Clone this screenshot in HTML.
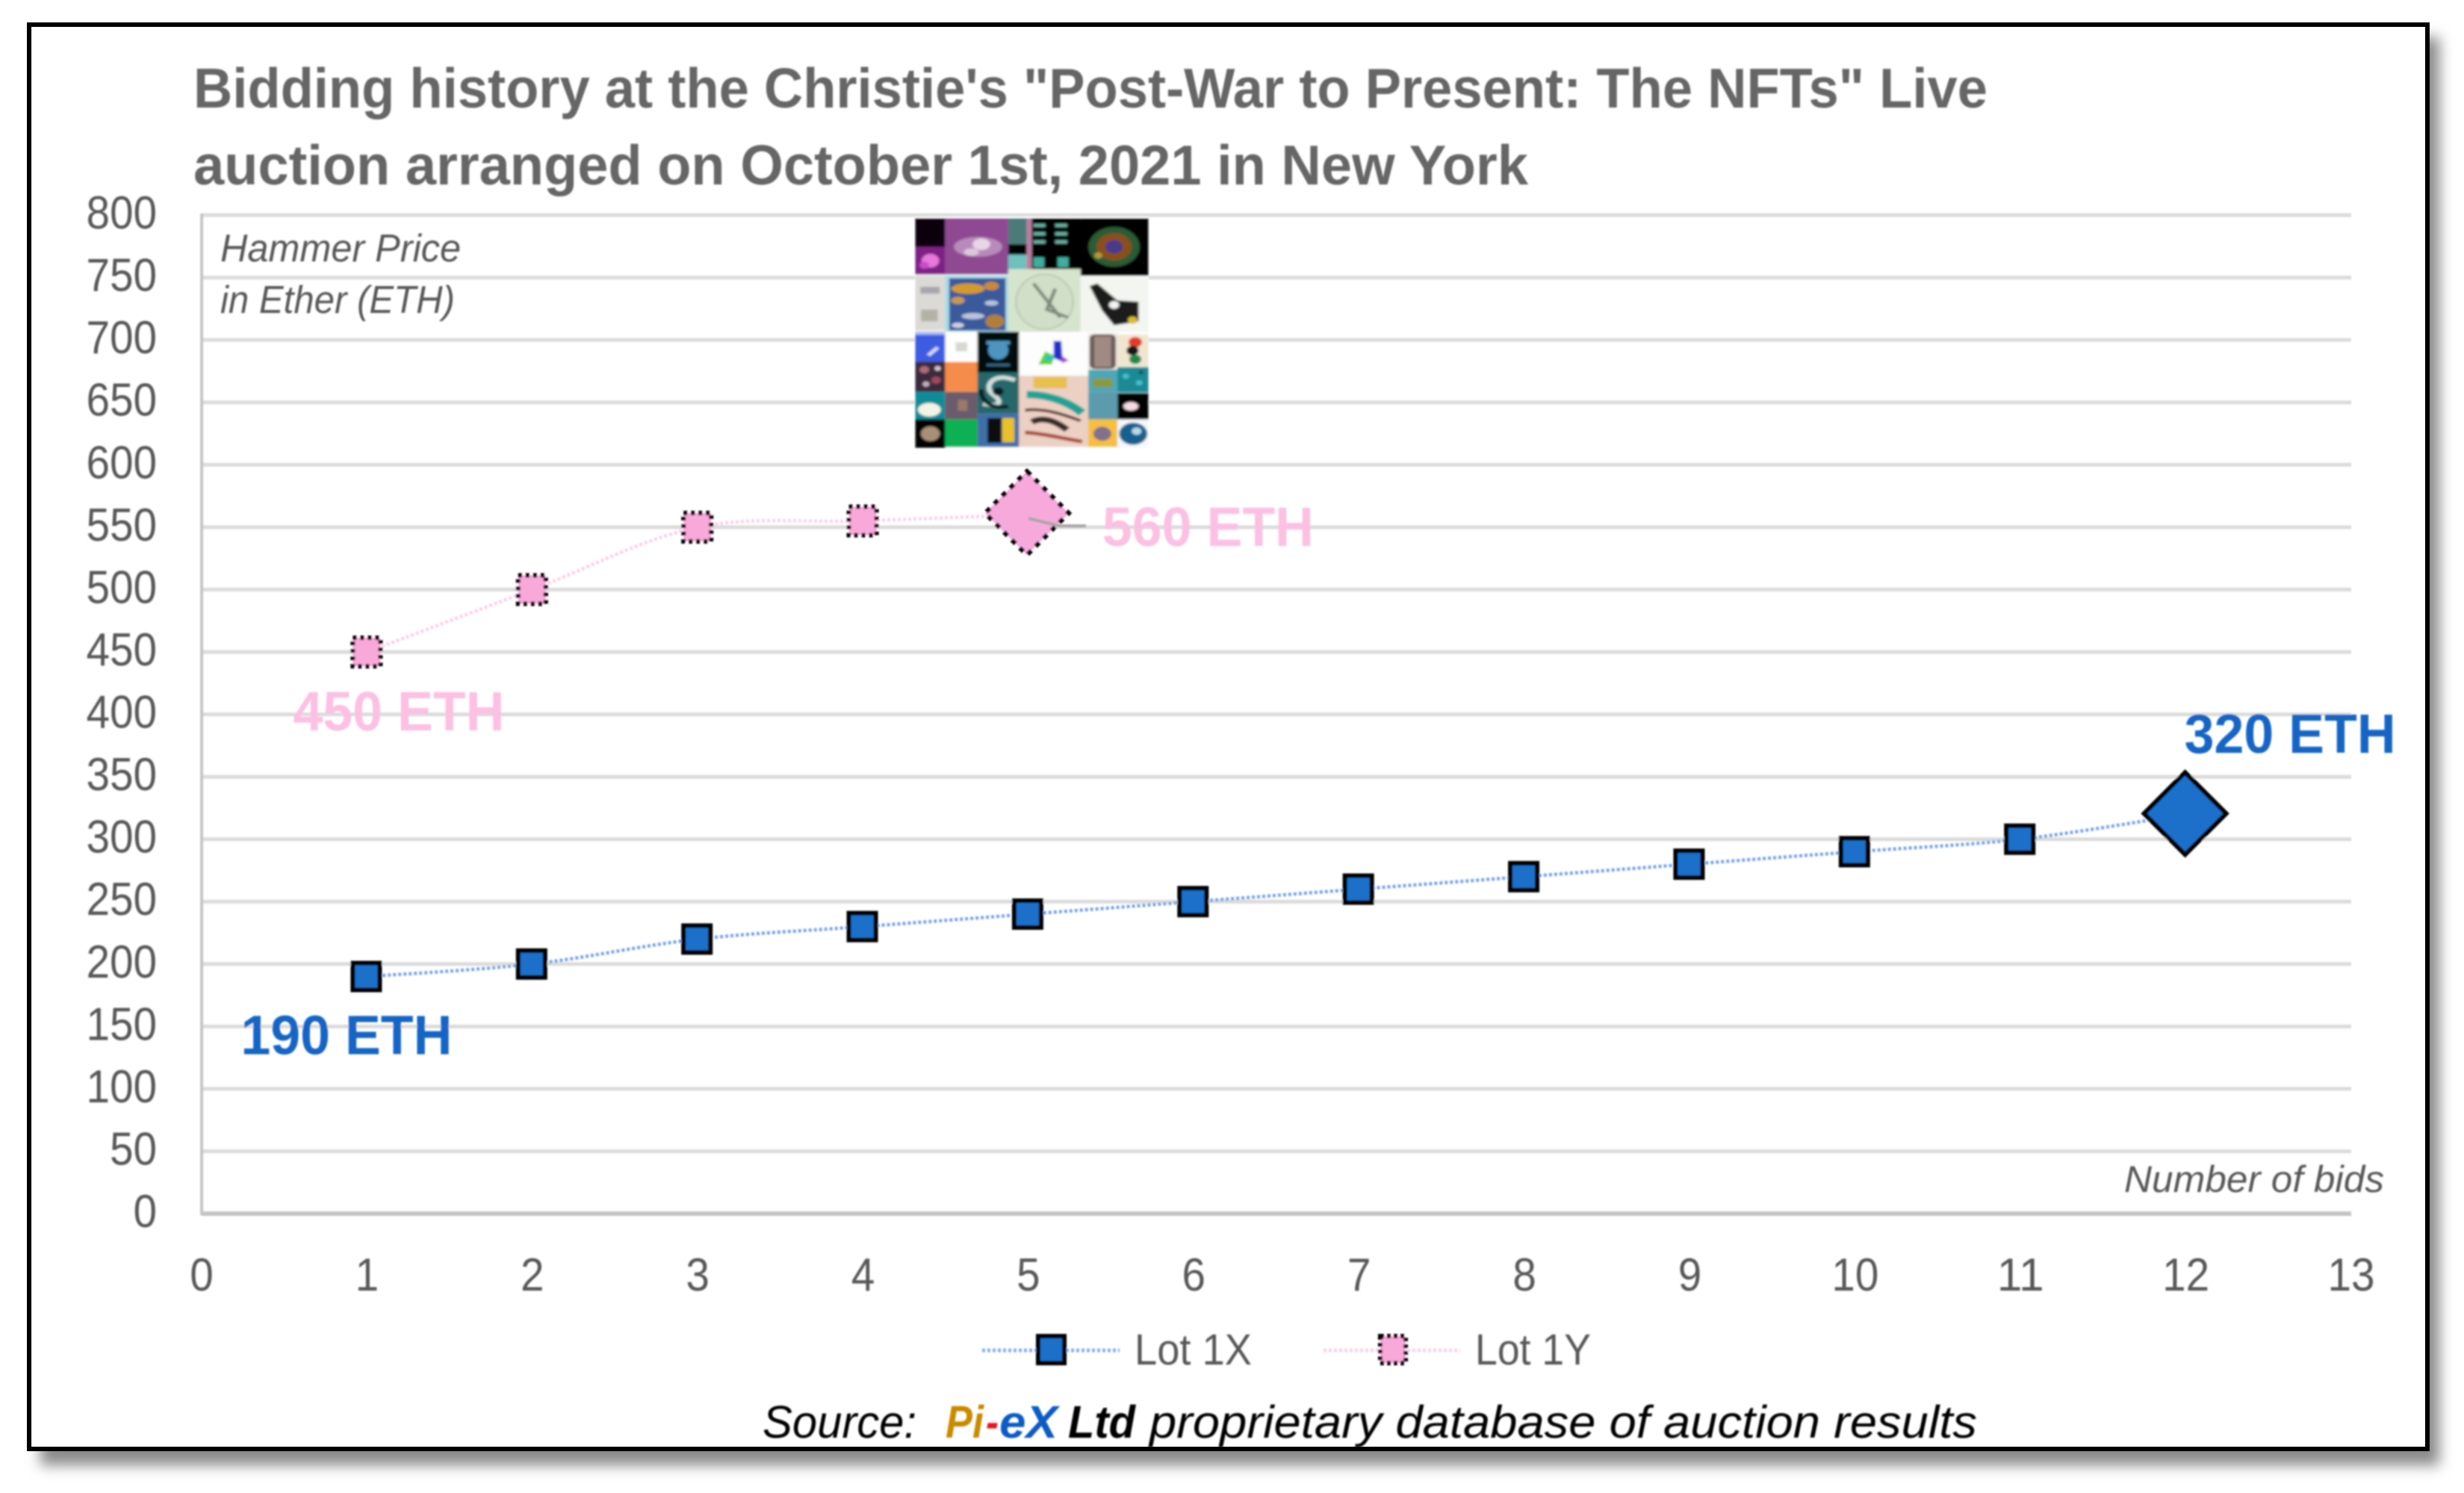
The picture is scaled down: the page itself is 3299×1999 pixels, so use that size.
<!DOCTYPE html>
<html lang="en">
<head>
<meta charset="utf-8">
<title>Bidding history at the Christie's "Post-War to Present: The NFTs" Live auction</title>
<style>
html,body{margin:0;padding:0;background:#fff;}
svg{display:block;font-family:"Liberation Sans",sans-serif;}
</style>
</head>
<body>
<svg id="chart" xmlns="http://www.w3.org/2000/svg" width="3299" height="1999" viewBox="0 0 3299 1999">
  <defs>
    <filter id="shadowBlur" x="-5%" y="-5%" width="110%" height="110%"><feGaussianBlur stdDeviation="9"/></filter>
    <filter id="soft" x="-2%" y="-2%" width="104%" height="104%"><feGaussianBlur stdDeviation="1.1"/></filter>
    <filter id="mosaicBlur" x="-5%" y="-5%" width="110%" height="110%"><feGaussianBlur stdDeviation="3"/></filter>
    <clipPath id="mosaicClip"><rect x="172" y="115" width="696" height="880"/></clipPath>
  </defs>
  <rect x="0" y="0" width="3299" height="1999" fill="#fff"/>
  <rect x="54" y="50" width="3212" height="1912" fill="#8a8a8a" filter="url(#shadowBlur)"/>
  <rect x="39" y="33" width="3211" height="1907" fill="#fff" stroke="#000" stroke-width="6"/>
  <g filter="url(#soft)">
    <g id="grid"></g>
    <g id="axes"></g>

    <text x="259" y="144" font-size="75" font-weight="700" fill="#666" textLength="2402" lengthAdjust="spacingAndGlyphs">Bidding history at the Christie's "Post-War to Present: The NFTs" Live</text>
    <text x="259" y="247" font-size="75" font-weight="700" fill="#666" textLength="1787" lengthAdjust="spacingAndGlyphs">auction arranged on October 1st, 2021 in New York</text>

    <text x="295" y="350" font-size="52" font-style="italic" fill="#595959" textLength="322" lengthAdjust="spacingAndGlyphs">Hammer Price</text>
    <text x="295" y="419" font-size="52" font-style="italic" fill="#595959" textLength="314" lengthAdjust="spacingAndGlyphs">in Ether (ETH)</text>
    <text x="2844" y="1596" font-size="50" font-style="italic" fill="#595959" textLength="348" lengthAdjust="spacingAndGlyphs">Number of bids</text>

    <g>
      <rect x="1225" y="290" width="313" height="310" fill="#fff"/>
      <g transform="translate(1147.6 251.75) scale(0.4497 0.35)" clip-path="url(#mosaicClip)" filter="url(#mosaicBlur)">
        <rect x="172" y="115" width="90" height="110" fill="#0d040c"/>
        <rect x="172" y="225" width="90" height="105" fill="#7d2284"/>
        <circle cx="218" cy="278" r="26" fill="#e878dc"/>
        <circle cx="200" cy="295" r="14" fill="#c84ec8"/>
        <rect x="262" y="115" width="188" height="215" fill="#8e4a92"/>
        <ellipse cx="360" cy="225" rx="72" ry="38" fill="#b78bb9"/>
        <ellipse cx="370" cy="215" rx="26" ry="22" fill="#e8d6e8"/>
        <ellipse cx="340" cy="245" rx="22" ry="14" fill="#dcc8de"/>
        <rect x="450" y="115" width="55" height="100" fill="#4c7a78"/>
        <rect x="450" y="215" width="55" height="40" fill="#050505"/>
        <rect x="450" y="255" width="55" height="75" fill="#6fc0bd"/>
        <rect x="505" y="115" width="15" height="215" fill="#b87ea0"/>
        <rect x="520" y="115" width="145" height="195" fill="#060606"/>
        <rect x="525" y="137" width="35" height="12" fill="#6db5a5"/>
        <rect x="590" y="137" width="35" height="12" fill="#6db5a5"/>
        <rect x="525" y="169" width="35" height="12" fill="#6db5a5"/>
        <rect x="590" y="169" width="35" height="12" fill="#6db5a5"/>
        <rect x="525" y="200" width="35" height="12" fill="#6db5a5"/>
        <rect x="590" y="200" width="35" height="12" fill="#6db5a5"/>
        <rect x="525" y="265" width="32" height="38" fill="#3fae9f"/>
        <rect x="597" y="265" width="32" height="38" fill="#3fae9f"/>
        <rect x="665" y="115" width="203" height="220" fill="#030303"/>
        <circle cx="765" cy="225" r="76" fill="#2c5c34"/>
        <circle cx="765" cy="225" r="52" fill="#8a4f1c"/>
        <circle cx="765" cy="225" r="26" fill="#4a3a8a"/>
        <circle cx="718" cy="258" r="12" fill="#b09a3a"/>

        <rect x="172" y="335" width="90" height="210" fill="#dcdad6"/>
        <rect x="188" y="378" width="58" height="26" fill="#a8a6ae"/>
        <rect x="190" y="465" width="50" height="45" fill="#b4b2a6"/>
        <rect x="262" y="335" width="188" height="215" fill="#a9dbe6"/>
        <rect x="274" y="345" width="168" height="200" fill="#3b5a9c"/>
        <ellipse cx="330" cy="385" rx="50" ry="20" fill="#d59a2a"/>
        <ellipse cx="400" cy="375" rx="22" ry="16" fill="#c98a30"/>
        <ellipse cx="300" cy="430" rx="20" ry="14" fill="#c89a50"/>
        <ellipse cx="410" cy="510" rx="28" ry="26" fill="#b0803a"/>
        <ellipse cx="345" cy="490" rx="34" ry="12" fill="#b9c2d8"/>
        <ellipse cx="400" cy="440" rx="20" ry="10" fill="#b9c2d8"/>
        <ellipse cx="300" cy="525" rx="18" ry="10" fill="#c9d2e4"/>
        <rect x="450" y="310" width="215" height="240" fill="#d5e4cd"/>
        <ellipse cx="558" cy="435" rx="85" ry="105" fill="#d2dfc8" stroke="#b8c5af" stroke-width="5"/>
        <path d="M525 365 L605 495 M590 385 L565 465 L628 495" stroke="#7d8a7a" stroke-width="11" fill="none"/>
        <rect x="665" y="340" width="203" height="210" fill="#f3f5f0"/>
        <path d="M692 375 L715 365 L775 430 L838 435 L838 510 L765 525 L730 470 Z" fill="#1b1b1b"/>
        <circle cx="765" cy="447" r="15" fill="#f3f3f3"/>
        <circle cx="820" cy="505" r="14" fill="#d9b92a"/>

        <rect x="172" y="560" width="90" height="105" fill="#3c5ce2"/>
        <rect x="172" y="550" width="90" height="12" fill="#a8b8f0"/>
        <path d="M212 640 L240 610" stroke="#d6ddf8" stroke-width="12" fill="none"/>
        <rect x="262" y="550" width="96" height="115" fill="#fff"/>
        <rect x="293" y="590" width="35" height="35" fill="#d8d8d2"/>
        <rect x="358" y="550" width="124" height="158" fill="#040810"/>
        <ellipse cx="420" cy="620" rx="30" ry="36" fill="#4d95c0"/>
        <rect x="385" y="585" width="70" height="14" fill="#4d95c0"/>
        <rect x="385" y="672" width="70" height="10" fill="#35657f"/>
        <rect x="482" y="560" width="206" height="158" fill="#fcfdfc"/>
        <path d="M540 675 L560 625 L585 640 L580 675 Z" fill="#5fd02a"/>
        <path d="M585 585 L608 585 L612 665 L585 650 Z" fill="#1a30c8"/>
        <path d="M608 640 L630 660 L610 670 Z" fill="#a845d8"/>
        <rect x="560" y="640" width="25" height="20" fill="#25c8b0"/>
        <rect x="688" y="555" width="87" height="140" fill="#efe9e2"/>
        <rect x="692" y="560" width="78" height="132" rx="16" fill="#6b5a56"/>
        <rect x="706" y="568" width="50" height="116" fill="#a08a82"/>
        <rect x="775" y="560" width="93" height="125" fill="#f0e6d0"/>
        <circle cx="828" cy="590" r="20" fill="#e23a2a"/>
        <circle cx="820" cy="622" r="18" fill="#151515"/>
        <circle cx="828" cy="655" r="18" fill="#1c8a4a"/>

        <rect x="172" y="665" width="90" height="115" fill="#3a2a3c"/>
        <circle cx="200" cy="695" r="14" fill="#b0697a"/>
        <circle cx="235" cy="735" r="14" fill="#a04a5a"/>
        <circle cx="205" cy="750" r="10" fill="#c8b0c0"/>
        <circle cx="240" cy="690" r="9" fill="#d8c8d0"/>
        <rect x="262" y="665" width="96" height="115" fill="#f68c4c"/>
        <rect x="358" y="705" width="124" height="158" fill="#27686a"/>
        <path d="M470 735 C400 700 375 765 405 790 C432 815 430 840 375 825" stroke="#cfe0dc" stroke-width="15" fill="none"/>
        <circle cx="420" cy="778" r="16" fill="#0f1f22"/>
        <path d="M370 770 C365 800 390 850 450 835" stroke="#0f1f22" stroke-width="14" fill="none"/>
        <rect x="482" y="718" width="206" height="272" fill="#ecd0c4"/>
        <rect x="525" y="722" width="100" height="44" fill="#e8c050"/>
        <path d="M505 790 C560 790 620 810 670 860" stroke="#1fa394" stroke-width="28" fill="none"/>
        <path d="M500 850 C560 840 620 870 665 890" stroke="#5a332c" stroke-width="11" fill="none"/>
        <path d="M520 895 C560 870 600 900 625 925" stroke="#3b2a25" stroke-width="22" fill="none"/>
        <path d="M500 935 C560 940 620 960 670 970" stroke="#a8483a" stroke-width="14" fill="none"/>
        <rect x="688" y="695" width="87" height="85" fill="#4fa6b6"/>
        <rect x="702" y="730" width="58" height="32" fill="#8a9a3a"/>
        <rect x="775" y="685" width="93" height="97" fill="#1c8a95"/>
        <circle cx="800" cy="720" r="10" fill="#46c0c8"/>
        <circle cx="840" cy="745" r="10" fill="#46c0c8"/>
        <circle cx="845" cy="705" r="8" fill="#0f5f68"/>

        <rect x="172" y="780" width="90" height="105" fill="#0f8b97"/>
        <ellipse cx="215" cy="848" rx="34" ry="26" fill="#f4f4e6"/>
        <rect x="262" y="780" width="96" height="105" fill="#6a5c6c"/>
        <rect x="300" y="810" width="28" height="42" fill="#9a7a6a"/>
        <rect x="688" y="780" width="87" height="105" fill="#5c9bac"/>
        <rect x="775" y="785" width="93" height="100" fill="#050505"/>
        <ellipse cx="815" cy="835" rx="22" ry="16" fill="#f4dce4"/>

        <rect x="172" y="885" width="90" height="110" fill="#040404"/>
        <circle cx="218" cy="940" r="28" fill="#a89078"/>
        <rect x="262" y="885" width="96" height="105" fill="#0cb052"/>
        <rect x="358" y="863" width="124" height="127" fill="#3f6ea8"/>
        <rect x="388" y="880" width="42" height="95" fill="#0a0a10"/>
        <rect x="432" y="880" width="36" height="92" fill="#e9c12a"/>
        <rect x="688" y="885" width="87" height="105" fill="#f5bf3f"/>
        <circle cx="730" cy="940" r="27" fill="#84708c"/>
        <rect x="775" y="885" width="93" height="110" fill="#f5f8fa"/>
        <circle cx="822" cy="940" r="42" fill="#15608f"/>
        <circle cx="832" cy="930" r="14" fill="#b7dbe8"/>
      </g>
    </g>

    <g id="seriesLayer"></g>
    <g id="labelLayer"></g>

    <g>
      <g>
        <line x1="1315" y1="1808" x2="1499" y2="1808" stroke="#8ab0e6" stroke-width="5" stroke-dasharray="4 3"/>
        <rect x="1390" y="1789" width="35" height="36" fill="#1a6fc9" stroke="#000" stroke-width="6"/>
        <text x="1519" y="1827" font-size="58" fill="#595959" textLength="157" lengthAdjust="spacingAndGlyphs">Lot 1X</text>
      </g>
      <g>
        <line x1="1772" y1="1808" x2="1955" y2="1808" stroke="#fbd0e8" stroke-width="5" stroke-dasharray="4 3"/>
        <rect x="1848" y="1789" width="34" height="36" fill="#f9a8da" stroke="#000" stroke-width="6" stroke-dasharray="5 4"/>
        <text x="1975" y="1827" font-size="58" fill="#595959" textLength="155" lengthAdjust="spacingAndGlyphs">Lot 1Y</text>
      </g>
    </g>

    <g font-size="61" font-style="italic">
      <text x="1021" y="1925" fill="#000" textLength="206" lengthAdjust="spacingAndGlyphs">Source:</text>
      <text x="1266" y="1925" fill="#c98a00" font-weight="700" textLength="51" lengthAdjust="spacingAndGlyphs">Pi</text>
      <text x="1320" y="1925" fill="#e8141c" font-weight="700" textLength="17" lengthAdjust="spacingAndGlyphs">-</text>
      <text x="1338" y="1925" fill="#0a5cc4" font-weight="700" textLength="78" lengthAdjust="spacingAndGlyphs">eX</text>
      <text x="1430" y="1925" fill="#000" font-weight="700" textLength="90" lengthAdjust="spacingAndGlyphs">Ltd</text>
      <text x="1539" y="1925" fill="#000" textLength="1108" lengthAdjust="spacingAndGlyphs">proprietary database of auction results</text>
    </g>
  </g>
</svg>
<script>
const xTickLabels = [0,1,2,3,4,5,6,7,8,9,10,11,12,13];
const yTickLabels = [0,50,100,150,200,250,300,350,400,450,500,550,600,650,700,750,800];
const bidNumbersX = [1,2,3,4,5,6,7,8,9,10,11,12];
const lot1xValues = [190,200,220,230,240,250,260,270,280,290,300,320];
const bidNumbersY = [1,2,3,4,5];
const lot1yValues = [450,500,550,555,560];

const NS = 'http://www.w3.org/2000/svg';
const plotLeft = 270, plotRight = 3148, plotBottom = 1625, plotTop = 288;
const xMax = xTickLabels[xTickLabels.length - 1];
const yMax = yTickLabels[yTickLabels.length - 1];
const sx = v => plotLeft + (v / xMax) * (plotRight - plotLeft);
const sy = v => plotBottom - (v / yMax) * (plotBottom - plotTop);

function make(tag, parent) {
  const el = document.createElementNS(NS, tag);
  parent.appendChild(el);
  return el;
}
function setAll(el, props) {
  Object.keys(props).forEach(k => el.setAttribute(k, props[k]));
}
function smoothPath(xs, ys) {
  const p = xs.map((x, i) => [sx(x), sy(ys[i])]);
  let d = 'M' + p[0][0] + ' ' + p[0][1];
  for (let i = 0; i < p.length - 1; i++) {
    const a = p[Math.max(i - 1, 0)], b = p[i], c = p[i + 1], e = p[Math.min(i + 2, p.length - 1)];
    const c1x = b[0] + (c[0] - a[0]) / 6, c1y = b[1] + (c[1] - a[1]) / 6;
    const c2x = c[0] - (e[0] - b[0]) / 6, c2y = c[1] - (e[1] - b[1]) / 6;
    d += ' C' + c1x + ' ' + c1y + ' ' + c2x + ' ' + c2y + ' ' + c[0] + ' ' + c[1];
  }
  return d;
}

const grid = document.getElementById('grid');
yTickLabels.forEach(v => {
  if (v === 0) return;
  const gl = make('line', grid);
  setAll(gl, {x1: plotLeft, x2: plotRight, y1: sy(v), y2: sy(v), stroke: '#dcdcdc', 'stroke-width': 5});
  
  
});

const axes = document.getElementById('axes');
const yAxis = make('line', axes);
setAll(yAxis, {x1: plotLeft, x2: plotLeft, y1: plotTop - 2, y2: plotBottom + 2, stroke: '#c4c4c4', 'stroke-width': 4});


const xAxis = make('line', axes);
setAll(xAxis, {x1: plotLeft, x2: plotRight, y1: plotBottom, y2: plotBottom, stroke: '#c4c4c4', 'stroke-width': 6});



yTickLabels.forEach(v => {
  const t = make('text', axes);
  const digits = String(v).length;
  setAll(t, {x: 210, y: sy(v) + 18, 'font-size': 62, fill: '#595959', 'text-anchor': 'end', textLength: digits * 31.5, lengthAdjust: 'spacingAndGlyphs'});
  t.textContent = v;
  
  
});
xTickLabels.forEach(v => {
  const t = make('text', axes);
  const digits = String(v).length;
  setAll(t, {x: sx(v), y: 1728, 'font-size': 62, fill: '#595959', 'text-anchor': 'middle', textLength: digits * 31.5, lengthAdjust: 'spacingAndGlyphs'});
  t.textContent = v;
  
  
});

const layer = document.getElementById('seriesLayer');

const lineX = make('path', layer);
setAll(lineX, {d: smoothPath(bidNumbersX, lot1xValues), fill: 'none', stroke: '#7aa6e4', 'stroke-width': 4.5, 'stroke-dasharray': '4 3'});



const lineY = make('path', layer);
setAll(lineY, {d: smoothPath(bidNumbersY, lot1yValues), fill: 'none', stroke: '#fcd0e8', 'stroke-width': 4.5, 'stroke-dasharray': '4 3'});



function diamondPoints(cx, cy, r) {
  return (cx) + ',' + (cy - r) + ' ' + (cx + r) + ',' + cy + ' ' + (cx) + ',' + (cy + r) + ' ' + (cx - r) + ',' + cy;
}

bidNumbersX.forEach((x, i) => {
  const cx = sx(x), cy = sy(lot1xValues[i]);
  if (i === bidNumbersX.length - 1) {
    const m = make('polygon', layer);
    setAll(m, {points: diamondPoints(cx - 1, cy - 1, 55), fill: '#1a6fc9', stroke: '#000', 'stroke-width': 6, 'stroke-linejoin': 'miter'});
    
    
  } else {
    const m = make('rect', layer);
    setAll(m, {x: cx - 19, y: cy - 18, width: 36, height: 36, fill: '#1a6fc9', stroke: '#000', 'stroke-width': 6});
    
    
  }
});

bidNumbersY.forEach((x, i) => {
  const cx = sx(x), cy = sy(lot1yValues[i]);
  if (i === bidNumbersY.length - 1) {
    const m = make('polygon', layer);
    setAll(m, {points: diamondPoints(cx - 2, cy - 2, 56), fill: '#f7a9dc', stroke: '#000', 'stroke-width': 6, 'stroke-dasharray': '7 8'});
    
    
  } else {
    const m = make('rect', layer);
    setAll(m, {x: cx - 19, y: cy - 19, width: 37, height: 38, fill: '#f9a8da', stroke: '#000', 'stroke-width': 6, 'stroke-dasharray': '5 5'});
    
    
  }
});

const leaderX = sx(bidNumbersY[bidNumbersY.length - 1]);
const leaderY = sy(lot1yValues[lot1yValues.length - 1]);
const leader = make('polyline', layer);
setAll(leader, {points: leaderX + ',' + (leaderY + 5) + ' ' + (leaderX + 42) + ',' + (leaderY + 15) + ' ' + (leaderX + 77) + ',' + (leaderY + 15), fill: 'none', stroke: '#a6a6a6', 'stroke-width': 4});



const labelLayer = document.getElementById('labelLayer');
function addLabel(xv, yv, dx, dy, color, name) {
  const t = make('text', labelLayer);
  setAll(t, {x: sx(xv) + dx, y: sy(yv) + dy, 'font-size': 74, 'font-weight': 700, fill: color, textLength: 283, lengthAdjust: 'spacingAndGlyphs'});
  t.textContent = yv + ' ETH';
  
  
}
addLabel(bidNumbersX[0], lot1xValues[0], -169, 104, '#1565c4', 'data-label-lot-1x-first');
addLabel(bidNumbersX[bidNumbersX.length - 1], lot1xValues[lot1xValues.length - 1], -2, -82, '#1565c4', 'data-label-lot-1x-final');
addLabel(bidNumbersY[0], lot1yValues[0], -99, 105, '#fcc0e2', 'data-label-lot-1y-first');
addLabel(bidNumbersY[bidNumbersY.length - 1], lot1yValues[lot1yValues.length - 1], 99, 42, '#fcc0e2', 'data-label-lot-1y-final');
</script>
</body>
</html>
